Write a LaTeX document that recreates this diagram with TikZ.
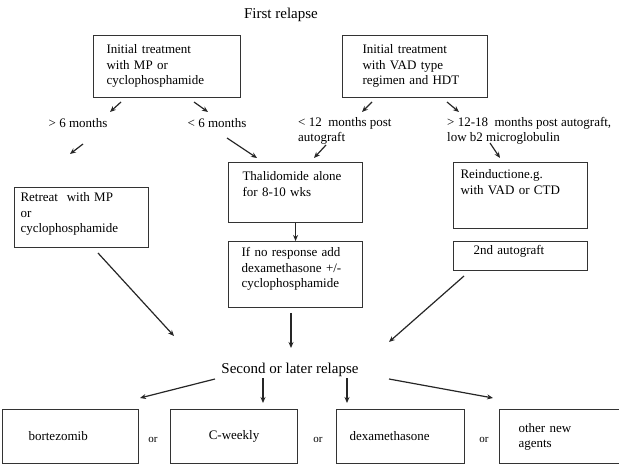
\documentclass[tikz,border=0pt]{standalone}
\usepackage{fontspec}
\setmainfont{Liberation Serif}
\usetikzlibrary{arrows.meta}

\begin{document}
\begin{tikzpicture}[x=1pt, y=-1pt,
    box/.style={draw=black!80, line width=1.1pt, anchor=north west, align=left,
        inner ysep=0pt, font=\fontsize{13}{15.5}\selectfont},
    opt/.style={draw=black!80, line width=1.1pt, anchor=north west, align=left,
        inner ysep=0pt, minimum height=54pt, font=\fontsize{13}{15}\selectfont},
    lbl/.style={inner sep=0pt, align=left, font=\fontsize{13}{15}\selectfont},
    head/.style={inner sep=0pt, font=\fontsize{15}{18}\selectfont},
    arr/.style={-{Stealth[length=6pt, width=5pt]}, line width=1.2pt, black!85}]

    \useasboundingbox (0,0) rectangle (619,465);

    % first relapse
    \node (first) [head] at (281,15) {First relapse};
    \node (mp) [box, inner xsep=13pt, text width=121pt, text height=18pt, text depth=44pt]
        at (93,35) {Initial treatment\\with MP or\\cyclophosphamide};
    \node (vad) [box, inner xsep=20pt, text width=105pt, text height=18pt, text depth=44pt]
        at (342,35) {Initial treatment\\with VAD type\\regimen and HDT};

    % time since first treatment
    \node (gt6) [lbl] at (78,123) {> 6 months};
    \node (lt6) [lbl] at (217,123) {< 6 months};
    \node (lt12) [lbl, anchor=north west] at (298,117) {< 12~~months post\\autograft};
    \node (gt12) [lbl, anchor=north west] at (447,117) {> 12-18~~months post autograft,\\low b2 microglobulin};

    % second line
    \node (retreat) [box, inner xsep=6pt, text width=122pt, text height=14pt, text depth=46pt]
        at (14,187) {Retreat~~with MP\\or\\cyclophosphamide};
    \node (thal) [box, inner xsep=14pt, text width=106pt, text height=18pt, text depth=42pt]
        at (228,162) {Thalidomide alone\\for 8-10 wks};
    \node (ifno) [box, inner xsep=13pt, text width=108pt, text height=15pt, text depth=51pt]
        at (228,241) {If no response add\\dexamethasone +/-\\cyclophosphamide};
    \node (reind) [box, inner xsep=7pt, text width=120pt, text height=16pt, text depth=50pt]
        at (453,162) {Reinductione.g.\\with VAD or CTD};
    \node (auto2) [box, inner xsep=20pt, text width=94pt, text height=13pt, text depth=16pt]
        at (453,241) {2nd autograft};

    % second or later relapse
    \node (second) [head] at (290,370) {Second or later relapse};
    \node (bort) [opt, inner xsep=26pt, text width=84pt] at (2,409) {bortezomib};
    \node (cweek) [opt, inner xsep=10pt, text width=107pt, align=center] at (170,409) {C-weekly};
    \node (dexa) [opt, inner xsep=13pt, text width=102pt] at (336,409) {dexamethasone};
    \node (other) [opt, inner xsep=19pt, text width=92pt] at (499,409) {other new\\agents};
    \node (or1) [lbl, font=\fontsize{11}{13}\selectfont] at (153,440) {or};
    \node (or2) [lbl, font=\fontsize{11}{13}\selectfont] at (318,440) {or};
    \node (or3) [lbl, font=\fontsize{11}{13}\selectfont] at (484,440) {or};

    % arrow ends
    \coordinate (mp-l) at (121,102);  \coordinate (gt6-n) at (110,112);
    \coordinate (mp-r) at (194,102);  \coordinate (lt6-n) at (208,112);
    \coordinate (vad-l) at (372,102); \coordinate (lt12-n) at (362,112);
    \coordinate (vad-r) at (447,102); \coordinate (gt12-n) at (459,112);
    \coordinate (gt6-s) at (83,144);  \coordinate (retreat-n) at (70,154);
    \coordinate (lt6-s) at (227,138); \coordinate (thal-nw) at (257,158);
    \coordinate (lt12-s) at (326,145); \coordinate (thal-ne) at (314,158);
    \coordinate (gt12-s) at (490,143); \coordinate (reind-n) at (500,158);
    \coordinate (retreat-s) at (98,253); \coordinate (second-w) at (174,336);
    \coordinate (ifno-s) at (291,313);   \coordinate (second-n) at (291,348);
    \coordinate (auto2-s) at (464,276);  \coordinate (second-e) at (389,342);
    \coordinate (s1) at (215,379); \coordinate (bort-n) at (140,398);
    \coordinate (s2) at (263,378); \coordinate (cweek-n) at (263,403);
    \coordinate (s3) at (347,378); \coordinate (dexa-n) at (347,403);
    \coordinate (s4) at (389,379); \coordinate (other-n) at (493,398);

    \path[arr]
        (mp-l) edge (gt6-n)
        (mp-r) edge (lt6-n)
        (vad-l) edge (lt12-n)
        (vad-r) edge (gt12-n)
        (gt6-s) edge (retreat-n)
        (lt6-s) edge (thal-nw)
        (lt12-s) edge (thal-ne)
        (gt12-s) edge (reind-n)
        (thal) edge (ifno)
        (retreat-s) edge (second-w)
        (ifno-s) edge (second-n)
        (auto2-s) edge (second-e)
        (s1) edge (bort-n)
        (s2) edge (cweek-n)
        (s3) edge (dexa-n)
        (s4) edge (other-n);
\end{tikzpicture}
\end{document}
